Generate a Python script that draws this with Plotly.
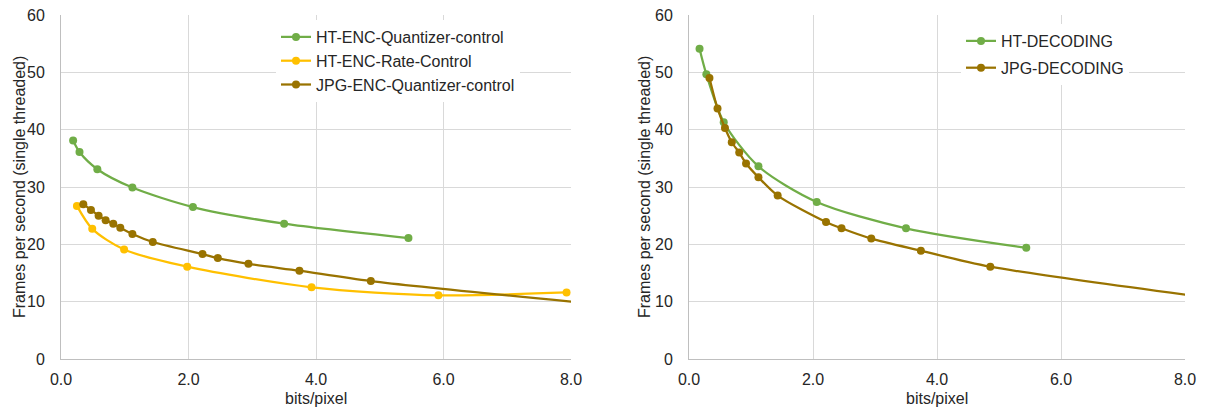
import plotly.graph_objects as go

# ---------------- data ----------------
ht_enc_q_x = [0.19, 0.29, 0.57, 1.12, 2.07, 3.50, 5.45]
ht_enc_q_y = [38.1, 36.1, 33.1, 29.9, 26.5, 23.6, 21.1]

ht_enc_rc_x = [0.25, 0.49, 0.99, 1.98, 3.93, 5.92, 7.93]
ht_enc_rc_y = [26.7, 22.7, 19.1, 16.1, 12.5, 11.1, 11.6]

jpg_enc_q_x = [0.35, 0.47, 0.59, 0.70, 0.82, 0.93, 1.12, 1.44, 2.22, 2.46, 2.94, 3.74, 4.86, 9.70]
jpg_enc_q_y = [27.0, 26.0, 25.0, 24.2, 23.6, 22.9, 21.8, 20.4, 18.3, 17.6, 16.6, 15.4, 13.6, 8.2]

ht_dec_x = [0.17, 0.28, 0.56, 1.12, 2.06, 3.50, 5.44]
ht_dec_y = [54.1, 49.65, 41.3, 33.6, 27.4, 22.8, 19.4]

jpg_dec_x = [0.33, 0.46, 0.58, 0.69, 0.81, 0.92, 1.12, 1.43, 2.21, 2.46, 2.94, 3.74, 4.86, 9.70]
jpg_dec_y = [49.0, 43.7, 40.3, 37.8, 36.0, 34.1, 31.7, 28.5, 23.9, 22.8, 21.0, 18.9, 16.1, 8.8]

x_ticks = [0, 2, 4, 6, 8]
x_tick_labels = ["0.0", "2.0", "4.0", "6.0", "8.0"]
y_ticks = [0, 10, 20, 30, 40, 50, 60]

GREEN = "#70AD47"
YELLOW = "#FFC000"
BROWN = "#997300"

W, H = 1206, 409
FONT = "Liberation Sans, Arial, sans-serif"

fig = go.Figure()

def add(x, y, name, color, xa, ya, legend):
    fig.add_trace(go.Scatter(
        x=x, y=y, name=name, mode="lines+markers",
        line=dict(color=color, width=2.25, shape="spline", smoothing=0.8),
        marker=dict(color=color, size=8),
        xaxis=xa, yaxis=ya, legend=legend, legendgroup=name,
    ))

add(ht_enc_q_x, ht_enc_q_y, "HT-ENC-Quantizer-control", GREEN, "x", "y", "legend")
add(ht_enc_rc_x, ht_enc_rc_y, "HT-ENC-Rate-Control", YELLOW, "x", "y", "legend")
add(jpg_enc_q_x, jpg_enc_q_y, "JPG-ENC-Quantizer-control", BROWN, "x", "y", "legend")
add(ht_dec_x, ht_dec_y, "HT-DECODING", GREEN, "x2", "y2", "legend2")
add(jpg_dec_x, jpg_dec_y, "JPG-DECODING", BROWN, "x2", "y2", "legend2")

L0, L1 = 61, 571
R0, R1 = 689, 1185
T, B = 15, 359

xcommon = dict(range=[0, 8], tickvals=x_ticks, ticktext=x_tick_labels,
               showgrid=True, gridcolor="#D9D9D9", gridwidth=1,
               showline=True, linecolor="#BFBFBF", linewidth=1,
               zeroline=False, ticks="", ticklabelstandoff=6, automargin=False,
               tickfont=dict(size=16, color="#262626", family=FONT))
ycommon = dict(range=[0, 60], tickvals=y_ticks,
               showgrid=True, gridcolor="#D9D9D9", gridwidth=1,
               showline=True, linecolor="#BFBFBF", linewidth=1,
               zeroline=False, ticks="", ticklabelstandoff=12, automargin=False,
               tickfont=dict(size=16, color="#262626", family=FONT))

ydom = [(H - B) / H, (H - T) / H]

fig.update_layout(
    width=W, height=H,
    margin=dict(l=0, r=0, t=0, b=0, autoexpand=False),
    paper_bgcolor="white", plot_bgcolor="white",
    font=dict(family=FONT, size=16, color="#262626"),
    xaxis=dict(domain=[L0 / W, L1 / W], anchor="y", **xcommon),
    yaxis=dict(domain=ydom, anchor="x", **ycommon),
    xaxis2=dict(domain=[R0 / W, R1 / W], anchor="y2", **xcommon),
    yaxis2=dict(domain=ydom, anchor="x2", **ycommon),
    legend=dict(x=276 / W, y=1 - 20 / H, xanchor="left", yanchor="top",
                bgcolor="white", font=dict(size=16, family=FONT, color="#262626"),
                itemwidth=30, traceorder="normal"),
    legend2=dict(x=961 / W, y=1 - 24 / H, xanchor="left", yanchor="top",
                 bgcolor="white", font=dict(size=16, family=FONT, color="#262626"),
                 itemwidth=30, traceorder="grouped", tracegroupgap=3),
    showlegend=True,
)

# axis titles
ytitle = "Frames per second (single threaded)"
tfont = dict(size=16, family=FONT, color="#262626")
fig.add_annotation(text=ytitle, x=19 / W, y=(H - (T + B) / 2) / H, xref="paper", yref="paper",
                   xanchor="center", yanchor="middle",
                   textangle=-90, showarrow=False, font=tfont)
fig.add_annotation(text=ytitle, x=644 / W, y=(H - (T + B) / 2) / H, xref="paper", yref="paper",
                   xanchor="center", yanchor="middle",
                   textangle=-90, showarrow=False, font=tfont)
fig.add_annotation(text="bits/pixel", x=(L0 + L1) / 2 / W, y=(H - 398) / H, xref="paper", yref="paper",
                   xanchor="center", yanchor="middle", showarrow=False, font=tfont)
fig.add_annotation(text="bits/pixel", x=(R0 + R1) / 2 / W, y=(H - 398) / H, xref="paper", yref="paper",
                   xanchor="center", yanchor="middle", showarrow=False, font=tfont)

fig.write_html("out.html")
